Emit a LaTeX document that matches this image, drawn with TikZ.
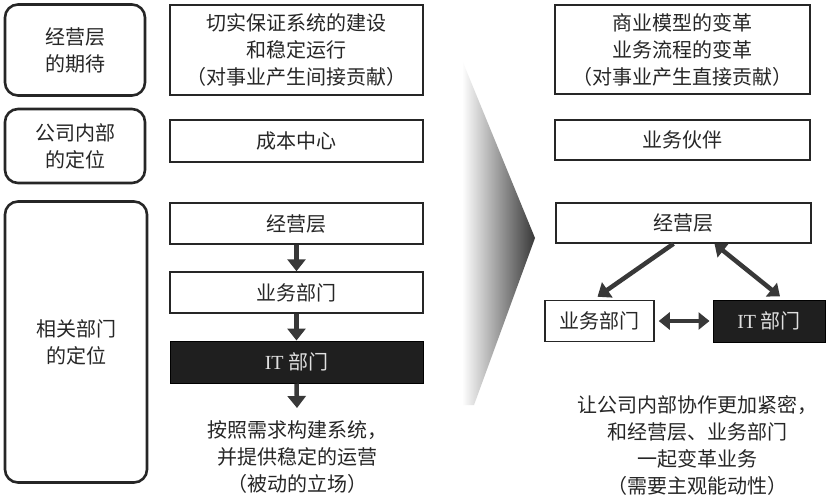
\documentclass[tikz,border=0pt]{standalone}
\usepackage{fontspec}
\setmainfont{Noto Sans CJK SC}
\newfontfamily\latinserif{Liberation Serif}
\usetikzlibrary{arrows.meta}
\tikzset{
  txt/.style={font=\fontsize{20}{27}\selectfont, align=center, text=black!85},
  roundbox/.style={draw=black!85, line width=2.6pt, rounded corners=13pt, inner sep=0pt, txt},
  rectbox/.style={draw=black!85, line width=1.5pt, inner sep=0pt, txt},
  darkbox/.style={draw=black, fill=black!88, line width=1pt, inner sep=0pt, txt, text=black!12},
  bigarrow/.style={draw=black!78, line width=4.5pt, -{Triangle[length=12pt,width=18pt]}},
  dblarrow/.style={draw=black!78, line width=4.5pt, {Triangle[length=11pt,width=17pt]}-{Triangle[length=11pt,width=17pt]}},
}
\begin{document}
\begin{tikzpicture}[x=1pt,y=-1pt]
\useasboundingbox[fill=white] (0,0) rectangle (826,495);

% chevron
\shade[left color=white, right color=black!78, shading angle=90]
  (462,60) -- (535,238) -- (474,405) -- (462,405) -- cycle;
\fill[white] (440,50) rectangle (462,420);

% left labels
\node[roundbox, minimum width=140pt, minimum height=91pt] (L1) at (75,50) {经营层\\的期待};
\node[roundbox, minimum width=140pt, minimum height=74pt] (L2) at (75,146) {公司内部\\的定位};
\node[roundbox, minimum width=142pt, minimum height=281pt] (L3) at (76,342) {相关部门\\的定位};

% middle column
\node[rectbox, minimum width=253pt, minimum height=90pt] (M1) at (296.5,50)
  {切实保证系统的建设\\和稳定运行\\（对事业产生间接贡献）};
\node[rectbox, minimum width=253pt, minimum height=42pt] (M2) at (296.5,141) {成本中心};
\node[rectbox, minimum width=253pt, minimum height=41pt] (M3) at (296.5,223.5) {经营层};
\node[rectbox, minimum width=253pt, minimum height=41pt] (M4) at (296.5,292.5) {业务部门};
\node[darkbox, minimum width=253pt, minimum height=42pt] (M5) at (296.5,362) {{\latinserif IT} 部门};
\node[txt] (M6) at (297,457) {按照需求构建系统，\\并提供稳定的运营\\（被动的立场）};
\coordinate (M6top) at (297,408);

\draw[bigarrow] (M3.south) -- (M4.north);
\draw[bigarrow] (M4.south) -- (M5.north);
\draw[bigarrow] (M5.south) -- (M6top);

% right column
\node[rectbox, minimum width=255pt, minimum height=89pt] (R1) at (682.5,49.5)
  {商业模型的变革\\业务流程的变革\\（对事业产生直接贡献）};
\node[rectbox, minimum width=255pt, minimum height=40pt] (R2) at (682.5,140) {业务伙伴};
\node[rectbox, minimum width=255pt, minimum height=40pt] (R3) at (683.5,223) {经营层};
\node[rectbox, minimum width=109pt, minimum height=41pt] (R4) at (599.5,321) {业务部门};
\node[darkbox, minimum width=112pt, minimum height=42pt] (R5) at (769,321) {{\latinserif IT} 部门};
\node[txt] (R6) at (697,445) {让公司内部协作更加紧密，\\和经营层、业务部门\\一起变革业务\\（需要主观能动性）};

\draw[bigarrow] ([xshift=-10pt]R3.south) -- ([xshift=-2pt,yshift=3pt]R4.north);
\draw[dblarrow] ([xshift=31pt]R3.south) -- ([xshift=11pt,yshift=3pt]R5.north);
\draw[dblarrow, shorten <=4pt, shorten >=3pt] (R4.east) -- (R5.west);
\end{tikzpicture}
\end{document}
